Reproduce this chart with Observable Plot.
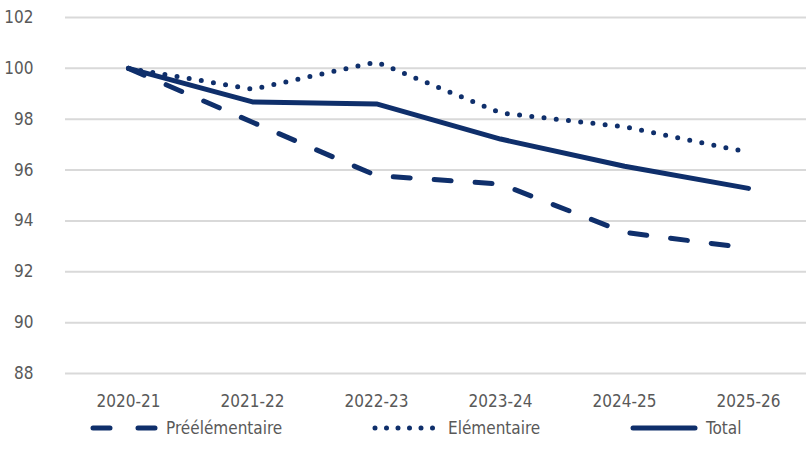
<!DOCTYPE html>
<html>
<head>
<meta charset="utf-8">
<script src="https://cdn.jsdelivr.net/npm/d3@7"></script>
<script src="https://cdn.jsdelivr.net/npm/@observablehq/plot@0.6"></script>
<style>
  html, body { margin: 0; padding: 0; background: #fff; }
  #wrap { position: relative; width: 806px; height: 470px; font-family: "DejaVu Sans", sans-serif; font-stretch: condensed; }
  #chart svg text { font-stretch: condensed; }
  #legend { position: absolute; left: 0; top: 413px; width: 806px; height: 30px; }
  .item { position: absolute; top: 0; display: flex; align-items: center; height: 30px; color: #595959; font-size: 17px; font-stretch: condensed; }
  .item svg { margin-right: 8px; }
</style>
</head>
<body>
<div id="wrap">
  <div id="chart"></div>
  <div id="legend"></div>
</div>
<script>
const years = ["2020-21", "2021-22", "2022-23", "2023-24", "2024-25", "2025-26"];
const preelementaire = [100, 97.88, 95.78, 95.45, 93.55, 92.93];
const elementaire = [100, 99.18, 100.25, 98.25, 97.7, 96.7];
const total = [100, 98.68, 98.6, 97.22, 96.15, 95.28];
const yTicks = [88, 90, 92, 94, 96, 98, 100, 102];
const seriesNames = ["Préélémentaire", "Elémentaire", "Total"];

const navy = "#0f2f6b";
const styles = {
  "Préélémentaire": {dash: "17,24"},
  "Elémentaire": {dash: "0,12.3"},
  "Total": {dash: null}
};

const allSeries = [preelementaire, elementaire, total];
const data = [];
seriesNames.forEach((name, i) => {
  years.forEach((y, j) => data.push({series: name, year: y, value: allSeries[i][j]}));
});

const lineMarks = seriesNames.map(name => Plot.line(data.filter(d => d.series === name), {
  x: "year", y: "value",
  stroke: navy, strokeWidth: 5, strokeLinecap: "round", strokeLinejoin: "round",
  strokeDasharray: styles[name].dash || undefined
}));

const chart = Plot.plot({
  width: 806,
  height: 418,
  marginTop: 17,
  marginBottom: 45,
  marginLeft: 65,
  marginRight: 0,
  style: {fontFamily: '"DejaVu Sans", sans-serif', fontSize: "17px", color: "#595959", background: "#fff"},
  x: {type: "point", domain: years, padding: 0, insetLeft: 61, insetRight: 56, label: null, tickSize: 0, tickPadding: 21},
  y: {domain: [88, 102], ticks: yTicks, label: null, tickSize: 0, tickPadding: 32},
  marks: [
    Plot.ruleY(yTicks, {stroke: "#d9d9d9", strokeWidth: 2}),
    ...lineMarks
  ]
});
document.getElementById("chart").appendChild(chart);
chart.querySelectorAll("g[aria-label='x-axis tick label'] text, g[aria-label='y-axis tick label'] text").forEach(t => t.setAttribute("fill", "#595959"));

const legendPos = [{name: "Préélémentaire", left: 90}, {name: "Elémentaire", left: 372}, {name: "Total", left: 630}];
const legend = document.getElementById("legend");
legendPos.forEach(p => {
  const item = document.createElement("div");
  item.className = "item";
  item.style.left = p.left + "px";
  const s = d3.create("svg").attr("width", 68).attr("height", 10);
  const ln = s.append("line").attr("x1", 3).attr("x2", 65).attr("y1", 5).attr("y2", 5)
    .attr("stroke", navy).attr("stroke-width", 5).attr("stroke-linecap", "round");
  if (styles[p.name].dash) ln.attr("stroke-dasharray", p.name === "Préélémentaire" ? "17,28" : "0,11.5");
  item.appendChild(s.node());
  const span = document.createElement("span");
  span.textContent = p.name;
  item.appendChild(span);
  legend.appendChild(item);
});
</script>
</body>
</html>
